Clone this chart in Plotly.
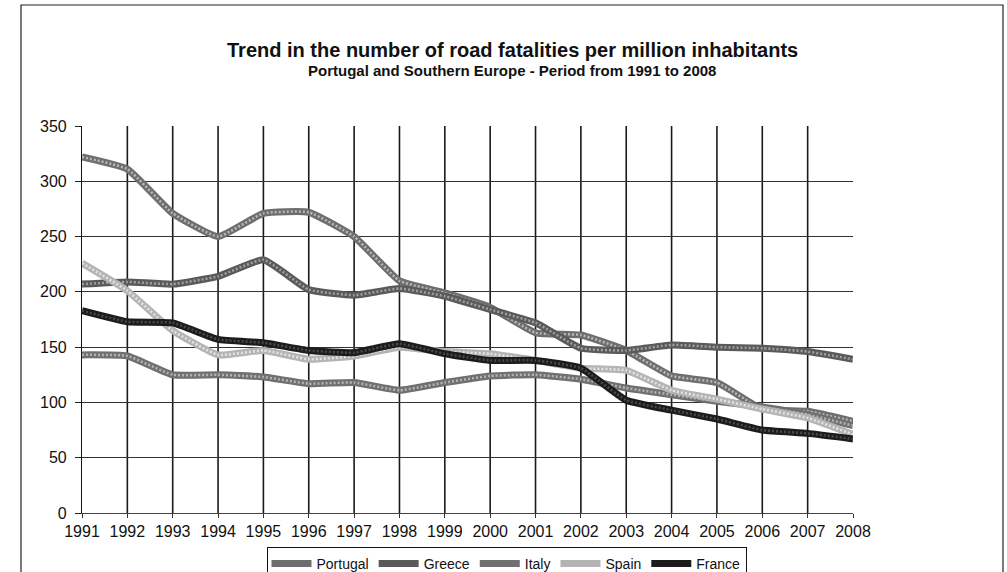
import plotly.graph_objects as go

years = list(range(1991, 2009))
portugal = [322, 311, 271, 250, 271, 272, 250, 210, 199, 186, 163, 161, 147, 124, 118, 94, 92, 83]
greece = [207, 209, 207, 214, 229, 202, 197, 203, 196, 184, 172, 149, 147, 152, 150, 149, 146, 139]
italy = [143, 142, 125, 125, 123, 117, 118, 111, 118, 124, 125, 121, 113, 107, 101, 96, 89, 79]
spain = [226, 201, 165, 143, 147, 139, 142, 150, 146, 144, 138, 131, 129, 111, 103, 94, 86, 71]
france = [183, 173, 172, 157, 154, 147, 145, 153, 144, 138, 138, 131, 102, 93, 85, 75, 72, 67]

series = [
    ("Portugal", portugal, "#6e6e6e", "#b8b8b8"),
    ("Greece", greece, "#5a5a5a", "#a0a0a0"),
    ("Italy", italy, "#707070", "#b4b4b4"),
    ("Spain", spain, "#b4b4b4", "#e4e4e4"),
    ("France", france, "#1c1c1c", "#4a4a4a"),
]

FONT = "Liberation Sans, Arial, sans-serif"

fig = go.Figure()
for name, vals, base, light in series:
    fig.add_trace(go.Scatter(
        x=years, y=vals, mode="lines", name=name, legendgroup=name,
        line=dict(color=base, width=7, shape="spline", smoothing=0.4),
    ))
    fig.add_trace(go.Scatter(
        x=years, y=vals, mode="lines", name=name, legendgroup=name, showlegend=False,
        line=dict(color=light, width=2.5, dash="2px,2px", shape="spline", smoothing=0.4),
        hoverinfo="skip",
    ))

shapes = []
for yr in years[1:-1]:
    shapes.append(dict(type="line", xref="x", yref="paper", x0=yr, x1=yr, y0=0, y1=1,
                       line=dict(color="#1a1a1a", width=1.6), layer="below"))
# outer frame
shapes.append(dict(type="rect", xref="paper", yref="paper",
                   x0=(21 - 82) / 771, x1=(1003 - 82) / 771,
                   y0=-0.25, y1=(513 - 5) / 387,
                   line=dict(color="#222", width=1.2), fillcolor="rgba(0,0,0,0)", layer="below"))

fig.update_layout(
    width=1007, height=572,
    margin=dict(l=82, r=154, t=126, b=59, autoexpand=False),
    paper_bgcolor="white", plot_bgcolor="white",
    font=dict(family=FONT, color="#111", size=16),
    showlegend=True,
    legend=dict(
        orientation="h", x=(506.5 / 1007), xref="container", xanchor="center",
        y=(572 - 547) / 572, yref="container", yanchor="top",
        bordercolor="#111", borderwidth=1, font=dict(size=14, family=FONT),
        itemwidth=40, tracegroupgap=0,
    ),
    shapes=shapes,
    annotations=[
        dict(text="<b>Trend in the number of road fatalities per million inhabitants</b>",
             xref="paper", yref="paper", x=(512 - 82) / 771, y=(513 - 50) / 387,
             xanchor="center", yanchor="middle", showarrow=False,
             font=dict(size=20, family=FONT, color="#111")),
        dict(text="<b>Portugal and Southern Europe - Period from 1991 to 2008</b>",
             xref="paper", yref="paper", x=(512 - 82) / 771, y=(513 - 71) / 387,
             xanchor="center", yanchor="middle", showarrow=False,
             font=dict(size=15, family=FONT, color="#111")),
    ],
)

fig.update_xaxes(
    range=[1991, 2008], tickvals=years, ticktext=[str(y) for y in years],
    showgrid=False, zeroline=False, showline=True, linecolor="#444", linewidth=1,
    ticks="outside", ticklen=4, tickcolor="#333",
    tickfont=dict(size=16, family=FONT, color="#111"),
)
fig.update_yaxes(
    range=[0, 350], tickvals=list(range(0, 351, 50)),
    showgrid=True, gridcolor="#333", gridwidth=1, zeroline=False,
    showline=True, linecolor="#111", linewidth=1.2,
    ticks="outside", ticklen=6, tickcolor="#222", ticklabelstandoff=5,
    tickfont=dict(size=16, family=FONT, color="#111"),
)

fig.write_html("out.html")
